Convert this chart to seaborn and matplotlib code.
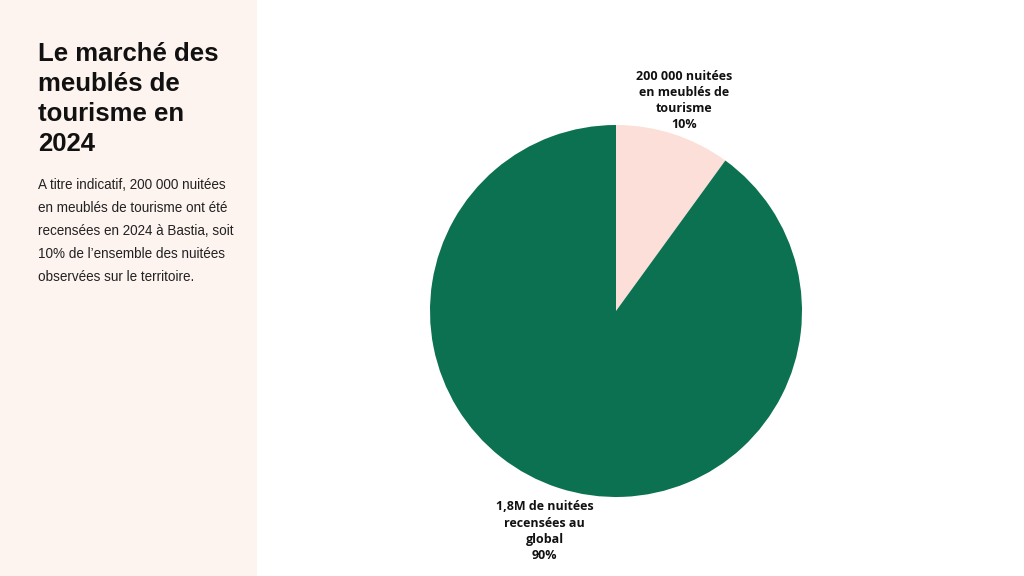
import matplotlib
matplotlib.use("Agg")
import matplotlib.pyplot as plt
import seaborn as sns
import numpy as np

# Data
categories = ["200 000 nuitées\nen meublés de\ntourisme", "1,8M de nuitées\nrecensées au\nglobal"]
values = [10, 90]
colors = ["#FBDFD8", "#0C7150"]

title = "Le marché des\nmeublés de\ntourisme en\n2024"
body_lines = [
    "A titre indicatif, 200 000 nuitées",
    "en meublés de tourisme ont été",
    "recensées en 2024 à Bastia, soit",
    "10% de l\u2019ensemble des nuitées",
    "observées sur le territoire.",
]

sns.set_theme(style="white")
plt.rcParams['font.family'] = ['Open Sans', 'DejaVu Sans']

W, H = 1024, 576
fig = plt.figure(figsize=(W / 100, H / 100), dpi=100)
fig.patch.set_facecolor("white")

# Left panel
panel = plt.Rectangle((0, 0), 257 / W, 1, transform=fig.transFigure,
                      facecolor="#FDF3EF", edgecolor="none", zorder=0)
fig.patches.append(panel)

fig.text(38 / W, 1 - 42 / H, title, ha="left", va="top", fontsize=18.5,
         fontweight="bold", family=["Liberation Sans"], color="#111111",
         linespacing=1.31)
fig.text(38 / W, 1 - 178 / H, "\n".join(body_lines), ha="left", va="top",
         fontsize=9.75, family=["Liberation Sans"], color="#222222",
         linespacing=1.82)

# Pie
cx, cy, r = 616, 311, 186
ax = fig.add_axes([(cx - r) / W, (H - cy - r) / H, 2 * r / W, 2 * r / H])
wedges, _ = ax.pie(values, colors=colors, startangle=90, counterclock=False,
                   radius=1, wedgeprops=dict(linewidth=0))
ax.set_xlim(-1, 1)
ax.set_ylim(-1, 1)
ax.set_aspect("equal")
ax.axis("off")

dists = [1.19, 1.245]
for w, cat, v, d in zip(wedges, categories, values, dists):
    ang = np.deg2rad((w.theta1 + w.theta2) / 2)
    ax.text(d * np.cos(ang), d * np.sin(ang), f"{cat}\n{v}%", ha="center",
            va="center", fontsize=9, fontweight="bold", color="#111111",
            linespacing=1.33)

fig.savefig("out.png", dpi=100)
